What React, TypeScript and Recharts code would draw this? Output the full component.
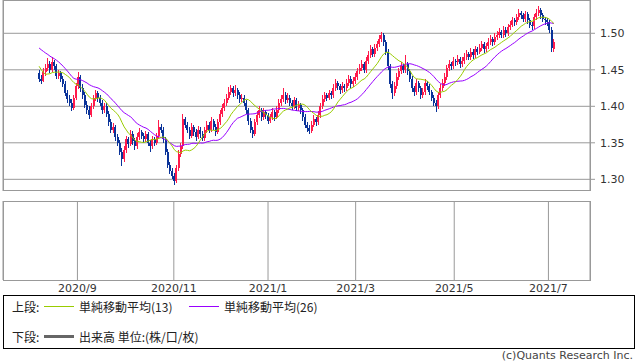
import React from "react";
import { ComposedChart, Bar, Line, XAxis, YAxis, CartesianGrid } from "recharts";

// trading calendar of the window (weekdays, minus the two market holidays)
const firstDay = "2020-08-06";
const lastDay = "2021-07-06";
const closedDays = ["2020-12-25", "2021-01-01"];

const tickDates = ["2020-09-01", "2020-11-02", "2021-01-04", "2021-03-01", "2021-05-03", "2021-07-01"];
const tickLabels = ["2020/9", "2020/11", "2021/1", "2021/3", "2021/5", "2021/7"];
const priceTicks = [1.3, 1.35, 1.4, 1.45, 1.5];

// closes before the first visible day, only used so the averages start where they do
const closesBeforeWindow = [
  1.5, 1.505, 1.51, 1.508, 1.512, 1.505, 1.5, 1.498, 1.505, 1.51, 1.508, 1.503, 1.5,
  1.498, 1.495, 1.485, 1.452, 1.445, 1.44, 1.448, 1.443, 1.438, 1.446, 1.44, 1.445,
];

// [open, high, low, close]
const ohlc = [
  [1.445, 1.45, 1.433, 1.438], [1.438, 1.443, 1.43, 1.435], [1.435, 1.452, 1.433, 1.447], [1.447, 1.458, 1.442, 1.452],
  [1.452, 1.466, 1.448, 1.458], [1.458, 1.462, 1.445, 1.45], [1.45, 1.467, 1.447, 1.46], [1.46, 1.464, 1.45, 1.455],
  [1.455, 1.458, 1.438, 1.442], [1.442, 1.45, 1.437, 1.445], [1.445, 1.448, 1.433, 1.438], [1.438, 1.442, 1.426, 1.43],
  [1.43, 1.434, 1.414, 1.418], [1.418, 1.423, 1.405, 1.41], [1.41, 1.416, 1.4, 1.405], [1.405, 1.41, 1.393, 1.398],
  [1.398, 1.416, 1.395, 1.412], [1.412, 1.432, 1.408, 1.428], [1.428, 1.447, 1.424, 1.44], [1.44, 1.443, 1.42, 1.425],
  [1.425, 1.43, 1.41, 1.415], [1.415, 1.42, 1.398, 1.402], [1.402, 1.407, 1.39, 1.395], [1.395, 1.4, 1.383, 1.388],
  [1.388, 1.405, 1.385, 1.4], [1.4, 1.416, 1.396, 1.412], [1.412, 1.422, 1.407, 1.418], [1.418, 1.421, 1.406, 1.412],
  [1.412, 1.416, 1.4, 1.405], [1.405, 1.409, 1.39, 1.395], [1.395, 1.405, 1.391, 1.4], [1.4, 1.404, 1.385, 1.39],
  [1.39, 1.394, 1.373, 1.378], [1.378, 1.382, 1.364, 1.368], [1.368, 1.377, 1.363, 1.372], [1.372, 1.375, 1.353, 1.358],
  [1.358, 1.362, 1.345, 1.35], [1.35, 1.354, 1.333, 1.338], [1.338, 1.343, 1.318, 1.328], [1.328, 1.345, 1.324, 1.34],
  [1.34, 1.36, 1.336, 1.355], [1.355, 1.358, 1.343, 1.348], [1.348, 1.367, 1.345, 1.362], [1.362, 1.366, 1.347, 1.352],
  [1.352, 1.356, 1.34, 1.345], [1.345, 1.363, 1.342, 1.358], [1.358, 1.37, 1.354, 1.365], [1.365, 1.368, 1.355, 1.36],
  [1.36, 1.364, 1.35, 1.355], [1.355, 1.366, 1.351, 1.362], [1.362, 1.365, 1.346, 1.35], [1.35, 1.354, 1.338, 1.345],
  [1.345, 1.359, 1.341, 1.355], [1.355, 1.358, 1.345, 1.35], [1.35, 1.364, 1.347, 1.36], [1.36, 1.381, 1.357, 1.372],
  [1.372, 1.376, 1.363, 1.368], [1.368, 1.371, 1.35, 1.355], [1.355, 1.358, 1.333, 1.338], [1.338, 1.342, 1.316, 1.32],
  [1.32, 1.324, 1.307, 1.312], [1.312, 1.316, 1.3, 1.305], [1.305, 1.309, 1.292, 1.298], [1.298, 1.32, 1.295, 1.315],
  [1.315, 1.34, 1.312, 1.335], [1.335, 1.35, 1.33, 1.345], [1.345, 1.39, 1.342, 1.382], [1.382, 1.386, 1.37, 1.375],
  [1.375, 1.379, 1.363, 1.368], [1.368, 1.372, 1.355, 1.36], [1.36, 1.377, 1.357, 1.372], [1.372, 1.375, 1.36, 1.365],
  [1.365, 1.369, 1.353, 1.358], [1.358, 1.373, 1.355, 1.368], [1.368, 1.371, 1.357, 1.362], [1.362, 1.366, 1.352, 1.356],
  [1.356, 1.372, 1.353, 1.368], [1.368, 1.38, 1.364, 1.375], [1.375, 1.378, 1.363, 1.368], [1.368, 1.385, 1.365, 1.38],
  [1.38, 1.383, 1.368, 1.372], [1.372, 1.376, 1.36, 1.365], [1.365, 1.383, 1.362, 1.378], [1.378, 1.395, 1.374, 1.39],
  [1.39, 1.403, 1.386, 1.398], [1.398, 1.41, 1.394, 1.405], [1.405, 1.417, 1.401, 1.412], [1.412, 1.426, 1.408, 1.42],
  [1.42, 1.429, 1.416, 1.425], [1.425, 1.428, 1.413, 1.418], [1.418, 1.429, 1.414, 1.422], [1.422, 1.425, 1.41, 1.415],
  [1.415, 1.419, 1.405, 1.41], [1.41, 1.417, 1.406, 1.412], [1.412, 1.415, 1.4, 1.405], [1.405, 1.408, 1.39, 1.395],
  [1.395, 1.398, 1.375, 1.38], [1.38, 1.384, 1.363, 1.368], [1.368, 1.372, 1.357, 1.362], [1.362, 1.383, 1.359, 1.378],
  [1.378, 1.393, 1.374, 1.388], [1.388, 1.4, 1.384, 1.395], [1.395, 1.398, 1.38, 1.385], [1.385, 1.397, 1.381, 1.392],
  [1.392, 1.395, 1.383, 1.388], [1.388, 1.391, 1.376, 1.38], [1.38, 1.39, 1.377, 1.385], [1.385, 1.397, 1.381, 1.392],
  [1.392, 1.395, 1.38, 1.385], [1.385, 1.4, 1.382, 1.395], [1.395, 1.41, 1.391, 1.405], [1.405, 1.415, 1.401, 1.41],
  [1.41, 1.425, 1.406, 1.415], [1.415, 1.419, 1.403, 1.408], [1.408, 1.418, 1.404, 1.412], [1.412, 1.415, 1.4, 1.405],
  [1.405, 1.409, 1.395, 1.4], [1.4, 1.413, 1.396, 1.408], [1.408, 1.411, 1.393, 1.398], [1.398, 1.407, 1.394, 1.402],
  [1.402, 1.405, 1.39, 1.395], [1.395, 1.398, 1.38, 1.385], [1.385, 1.389, 1.37, 1.375], [1.375, 1.379, 1.365, 1.37],
  [1.37, 1.374, 1.362, 1.366], [1.366, 1.38, 1.363, 1.375], [1.375, 1.388, 1.371, 1.382], [1.382, 1.385, 1.373, 1.378],
  [1.378, 1.393, 1.374, 1.388], [1.388, 1.405, 1.384, 1.4], [1.4, 1.415, 1.396, 1.41], [1.41, 1.42, 1.406, 1.415],
  [1.415, 1.418, 1.407, 1.412], [1.412, 1.423, 1.408, 1.418], [1.418, 1.421, 1.41, 1.415], [1.415, 1.43, 1.411, 1.425],
  [1.425, 1.438, 1.421, 1.432], [1.432, 1.435, 1.423, 1.428], [1.428, 1.431, 1.417, 1.422], [1.422, 1.433, 1.418, 1.428],
  [1.428, 1.431, 1.42, 1.425], [1.425, 1.437, 1.421, 1.432], [1.432, 1.443, 1.428, 1.438], [1.438, 1.441, 1.425, 1.43],
  [1.43, 1.44, 1.426, 1.435], [1.435, 1.445, 1.431, 1.44], [1.44, 1.453, 1.436, 1.448], [1.448, 1.458, 1.444, 1.452],
  [1.452, 1.463, 1.448, 1.458], [1.458, 1.461, 1.445, 1.45], [1.45, 1.467, 1.446, 1.462], [1.462, 1.476, 1.458, 1.47],
  [1.47, 1.484, 1.466, 1.478], [1.478, 1.481, 1.467, 1.472], [1.472, 1.486, 1.468, 1.48], [1.48, 1.49, 1.476, 1.485],
  [1.485, 1.497, 1.481, 1.492], [1.492, 1.502, 1.488, 1.498], [1.498, 1.501, 1.483, 1.488], [1.488, 1.491, 1.47, 1.475],
  [1.475, 1.478, 1.45, 1.455], [1.455, 1.458, 1.425, 1.43], [1.43, 1.434, 1.41, 1.418], [1.418, 1.433, 1.414, 1.428],
  [1.428, 1.445, 1.424, 1.44], [1.44, 1.453, 1.436, 1.448], [1.448, 1.46, 1.444, 1.455], [1.455, 1.458, 1.445, 1.45],
  [1.45, 1.47, 1.446, 1.458], [1.458, 1.461, 1.443, 1.448], [1.448, 1.451, 1.433, 1.438], [1.438, 1.441, 1.42, 1.425],
  [1.425, 1.428, 1.414, 1.42], [1.42, 1.437, 1.416, 1.432], [1.432, 1.435, 1.42, 1.425], [1.425, 1.428, 1.41, 1.415],
  [1.415, 1.425, 1.411, 1.42], [1.42, 1.437, 1.416, 1.432], [1.432, 1.435, 1.423, 1.428], [1.428, 1.431, 1.415, 1.42],
  [1.42, 1.423, 1.407, 1.412], [1.412, 1.415, 1.4, 1.405], [1.405, 1.408, 1.392, 1.4], [1.4, 1.42, 1.396, 1.415],
  [1.415, 1.43, 1.411, 1.425], [1.425, 1.437, 1.421, 1.432], [1.432, 1.445, 1.428, 1.44], [1.44, 1.457, 1.436, 1.452],
  [1.452, 1.463, 1.448, 1.458], [1.458, 1.461, 1.45, 1.455], [1.455, 1.467, 1.451, 1.462], [1.462, 1.465, 1.455, 1.46],
  [1.46, 1.47, 1.456, 1.465], [1.465, 1.468, 1.453, 1.458], [1.458, 1.467, 1.454, 1.462], [1.462, 1.473, 1.458, 1.468],
  [1.468, 1.477, 1.464, 1.472], [1.472, 1.475, 1.463, 1.468], [1.468, 1.48, 1.464, 1.475], [1.475, 1.478, 1.465, 1.47],
  [1.47, 1.483, 1.466, 1.478], [1.478, 1.481, 1.47, 1.475], [1.475, 1.485, 1.471, 1.48], [1.48, 1.49, 1.476, 1.485],
  [1.485, 1.488, 1.473, 1.478], [1.478, 1.487, 1.474, 1.482], [1.482, 1.493, 1.478, 1.488], [1.488, 1.497, 1.484, 1.492],
  [1.492, 1.495, 1.483, 1.488], [1.488, 1.5, 1.484, 1.495], [1.495, 1.503, 1.491, 1.498], [1.498, 1.507, 1.494, 1.502],
  [1.502, 1.505, 1.493, 1.498], [1.498, 1.51, 1.494, 1.505], [1.505, 1.508, 1.495, 1.5], [1.5, 1.513, 1.496, 1.508],
  [1.508, 1.517, 1.504, 1.512], [1.512, 1.523, 1.508, 1.518], [1.518, 1.521, 1.51, 1.515], [1.515, 1.527, 1.511, 1.522],
  [1.522, 1.533, 1.518, 1.528], [1.528, 1.531, 1.52, 1.525], [1.525, 1.528, 1.515, 1.52], [1.52, 1.531, 1.516, 1.526],
  [1.526, 1.529, 1.513, 1.518], [1.518, 1.521, 1.507, 1.512], [1.512, 1.515, 1.505, 1.51], [1.51, 1.527, 1.506, 1.522],
  [1.522, 1.533, 1.518, 1.528], [1.528, 1.537, 1.524, 1.532], [1.532, 1.535, 1.52, 1.525], [1.525, 1.528, 1.515, 1.52],
  [1.52, 1.523, 1.512, 1.518], [1.518, 1.521, 1.51, 1.515], [1.515, 1.518, 1.5, 1.505], [1.505, 1.508, 1.475, 1.48],
  [1.478, 1.492, 1.475, 1.488],
];

const RED = "#ff1a4b";
const BLUE = "#0a3399";
const MA13_COLOR = "#99cc00";
const MA26_COLOR = "#9900ff";
const GRID = "#999999";
const FONT = "'DejaVu Sans', Verdana, sans-serif";
const JP_FONT = "'Noto Sans CJK JP', 'DejaVu Sans', sans-serif";

function tradingDays(from: string, to: string, skip: string[]) {
  const out: string[] = [];
  const d = new Date(from + "T00:00:00Z");
  const end = new Date(to + "T00:00:00Z");
  while (d <= end) {
    const wd = d.getUTCDay();
    const s = d.toISOString().slice(0, 10);
    if (wd !== 0 && wd !== 6 && !skip.includes(s)) out.push(s);
    d.setUTCDate(d.getUTCDate() + 1);
  }
  return out;
}

const dates = tradingDays(firstDay, lastDay, closedDays);
const closes = ohlc.map((r) => r[3]);
const allCloses = [...closesBeforeWindow, ...closes];

function sma(n: number, i: number) {
  const end = closesBeforeWindow.length + i + 1;
  const win = allCloses.slice(Math.max(0, end - n), end);
  return win.reduce((a, b) => a + b, 0) / win.length;
}

const data = ohlc.map((r, i) => ({
  date: dates[i],
  open: r[0],
  high: r[1],
  low: r[2],
  close: r[3],
  ma13: sma(13, i),
  ma26: sma(26, i),
}));

const labelFor = (d: string) => {
  const k = tickDates.indexOf(d);
  return k >= 0 ? tickLabels[k] : "";
};

const Candle = (props: any) => {
  const { x, y, width, height, payload } = props;
  if (x == null || y == null || !payload) return null;
  const top = Math.min(y, y + height);
  const h = Math.abs(height) || 1;
  const { open, high, low, close } = payload;
  const toY = (v: number) => top + ((high - v) / (high - low)) * h;
  const color = close >= open ? RED : BLUE;
  const cx = x + width / 2;
  const bTop = toY(Math.max(open, close));
  const bBot = toY(Math.min(open, close));
  return (
    <g shapeRendering="crispEdges">
      <rect x={Math.round(cx - 0.5)} y={top} width={1} height={h} fill={color} />
      <rect x={Math.round(cx - 1)} y={bTop} width={2} height={Math.max(1, bBot - bTop)} fill={color} />
    </g>
  );
};

const frame = (left: number, top: number, w: number, h: number): React.CSSProperties => ({
  position: "absolute",
  left,
  top,
  width: w,
  height: h,
  boxSizing: "border-box",
  border: `1px solid ${GRID}`,
  pointerEvents: "none",
});

export default function App() {
  return (
    <div style={{ position: "absolute", left: 0, top: 0, width: 638, height: 362, background: "#fff", overflow: "hidden" }}>
      <div style={{ position: "absolute", left: 0, top: 0 }}>
        <ComposedChart width={638} height={191} data={data} margin={{ top: 0, right: 0, bottom: 0, left: 3 }} barCategoryGap={0}>
          <CartesianGrid stroke={GRID} />
          <XAxis
            dataKey="date"
            ticks={tickDates}
            interval={0}
            height={0}
            tick={false}
            axisLine={false}
            tickLine={false}
            padding={{ left: 35, right: 35 }}
          />
          <YAxis
            orientation="right"
            width={48}
            domain={[1.284, 1.5456]}
            ticks={priceTicks}
            allowDataOverflow
            axisLine={false}
            tickLine={{ stroke: GRID }}
            tickSize={5}
            tickMargin={5}
            tickFormatter={(v: number) => v.toFixed(2)}
            tick={{ fontSize: 11, fill: "#333", fontFamily: FONT }}
          />
          <Bar dataKey={(d: any) => [d.low, d.high]} shape={Candle} isAnimationActive={false} />
          <Line dataKey="ma26" stroke={MA26_COLOR} strokeWidth={1} dot={false} activeDot={false} isAnimationActive={false} />
          <Line dataKey="ma13" stroke={MA13_COLOR} strokeWidth={1} dot={false} activeDot={false} isAnimationActive={false} />
        </ComposedChart>
      </div>
      <div style={frame(3, 0, 588, 191)} />

      <div style={{ position: "absolute", left: 0, top: 201 }}>
        <ComposedChart width={638} height={100} data={data} margin={{ top: 0, right: 48, bottom: 0, left: 3 }}>
          <CartesianGrid stroke={GRID} horizontal={false} />
          <XAxis
            dataKey="date"
            ticks={tickDates}
            interval={0}
            height={21}
            axisLine={false}
            tickLine={false}
            tickSize={0}
            tickMargin={4}
            padding={{ left: 35, right: 35 }}
            tickFormatter={labelFor}
            tick={{ fontSize: 11, fill: "#333", fontFamily: FONT }}
          />
          <YAxis hide domain={[0, 1]} />
          <Line dataKey="volume" stroke="#666" dot={false} isAnimationActive={false} />
        </ComposedChart>
      </div>
      <div style={frame(3, 201, 588, 80)} />

      <div
        style={{
          position: "absolute",
          left: 3,
          top: 295,
          width: 632,
          height: 54,
          boxSizing: "border-box",
          border: "1px solid #000",
          fontFamily: JP_FONT,
          fontSize: 12,
          color: "#222",
        }}
      >
        <span style={{ position: "absolute", left: 8, top: 2 }}>上段:</span>
        <span style={{ position: "absolute", left: 40, top: 10, width: 30, height: 1, background: MA13_COLOR }} />
        <span style={{ position: "absolute", left: 75, top: 2 }}>単純移動平均(13)</span>
        <span style={{ position: "absolute", left: 185, top: 10, width: 30, height: 1, background: MA26_COLOR }} />
        <span style={{ position: "absolute", left: 220, top: 2 }}>単純移動平均(26)</span>
        <span style={{ position: "absolute", left: 8, top: 32 }}>下段:</span>
        <span style={{ position: "absolute", left: 40, top: 39, width: 30, height: 3, background: "#666" }} />
        <span style={{ position: "absolute", left: 75, top: 32 }}>出来高 単位:(株/口/枚)</span>
      </div>
      <div
        style={{
          position: "absolute",
          right: 5,
          top: 349,
          fontFamily: FONT,
          fontSize: 11,
          color: "#444",
        }}
      >
        (c)Quants Research Inc.
      </div>
    </div>
  );
}
